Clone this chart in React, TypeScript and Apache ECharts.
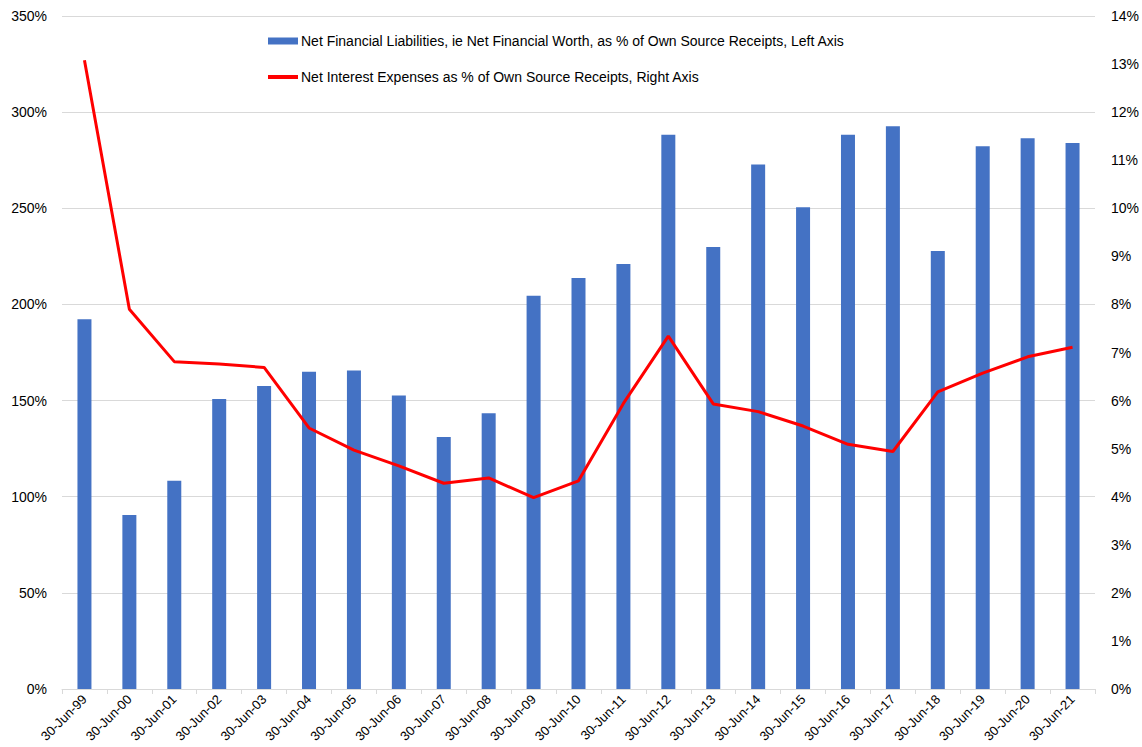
import React, { useEffect, useRef } from "react";
import * as echarts from "echarts";

const categories = [
  "30-Jun-99", "30-Jun-00", "30-Jun-01", "30-Jun-02", "30-Jun-03", "30-Jun-04",
  "30-Jun-05", "30-Jun-06", "30-Jun-07", "30-Jun-08", "30-Jun-09", "30-Jun-10",
  "30-Jun-11", "30-Jun-12", "30-Jun-13", "30-Jun-14", "30-Jun-15", "30-Jun-16",
  "30-Jun-17", "30-Jun-18", "30-Jun-19", "30-Jun-20", "30-Jun-21",
];

const netFinancialLiabilities = [
  192.3, 90.5, 108.3, 150.8, 157.6, 165.0, 165.7, 152.7, 131.0, 143.4, 204.5, 213.7,
  221.0, 288.3, 229.9, 272.8, 250.6, 288.3, 292.6, 227.8, 282.2, 286.4, 283.9,
];

const netInterestExpenses = [
  13.08, 7.9, 6.81, 6.76, 6.69, 5.43, 4.97, 4.64, 4.28, 4.39, 3.98, 4.33,
  5.94, 7.34, 5.93, 5.77, 5.47, 5.09, 4.94, 6.18, 6.57, 6.91, 7.11,
];

const barName = "Net Financial Liabilities, ie Net Financial Worth, as % of Own Source Receipts, Left Axis";
const lineName = "Net Interest Expenses as % of Own Source Receipts, Right Axis";

const FONT = "'Liberation Sans', Arial, sans-serif";

export default function App() {
  const ref = useRef<HTMLDivElement>(null);
  useEffect(() => {
    if (!ref.current) return;
    const chart = echarts.init(ref.current, undefined, { renderer: "svg" });
    chart.setOption({
      animation: false,
      textStyle: { fontFamily: FONT },
      grid: {
        left: 62,
        right: 47,
        top: 16,
        bottom: 58,
        containLabel: false,
        outerBoundsMode: "none",
      },
      legend: {
        orient: "vertical",
        left: 266,
        top: 34,
        padding: 0,
        itemWidth: 30,
        itemHeight: 7,
        itemGap: 22,
        textStyle: { fontFamily: FONT, fontSize: 14, color: "#000", padding: [0, 0, 0, -2] },
        data: [
          { name: barName, icon: "rect" },
          {
            name: lineName,
            itemStyle: { opacity: 0 },
            lineStyle: { color: "#ff0000", width: 4, opacity: 1 },
          },
        ],
      },
      xAxis: {
        type: "category",
        data: categories,
        boundaryGap: true,
        axisLine: { lineStyle: { color: "#d9d9d9", width: 1 } },
        axisTick: { show: true, length: 5, lineStyle: { color: "#d9d9d9" } },
        axisLabel: {
          rotate: 45,
          interval: 0,
          fontSize: 13,
          color: "#000",
          fontFamily: FONT,
          margin: 8,
        },
      },
      yAxis: [
        {
          type: "value",
          min: 0,
          max: 350,
          interval: 50,
          axisLine: { show: false },
          axisTick: { show: false },
          splitLine: { lineStyle: { color: "#d9d9d9", width: 1 } },
          axisLabel: {
            formatter: "{value}%",
            fontSize: 14,
            color: "#000",
            fontFamily: FONT,
            margin: 15,
          },
        },
        {
          type: "value",
          min: 0,
          max: 14,
          interval: 1,
          axisLine: { show: false },
          axisTick: { show: false },
          splitLine: { show: false },
          axisLabel: {
            formatter: "{value}%",
            fontSize: 14,
            color: "#000",
            fontFamily: FONT,
            margin: 16,
          },
        },
      ],
      series: [
        {
          name: barName,
          type: "bar",
          data: netFinancialLiabilities,
          barWidth: 14,
          itemStyle: { color: "#4472c4" },
          yAxisIndex: 0,
        },
        {
          name: lineName,
          type: "line",
          data: netInterestExpenses,
          yAxisIndex: 1,
          showSymbol: false,
          symbol: "none",
          lineStyle: { color: "#ff0000", width: 3 },
          itemStyle: { color: "#ff0000" },
        },
      ],
    });
    return () => chart.dispose();
  }, []);
  return (
    <div
      ref={ref}
      style={{ position: "absolute", left: 0, top: 0, width: 1142, height: 747 }}
    />
  );
}
